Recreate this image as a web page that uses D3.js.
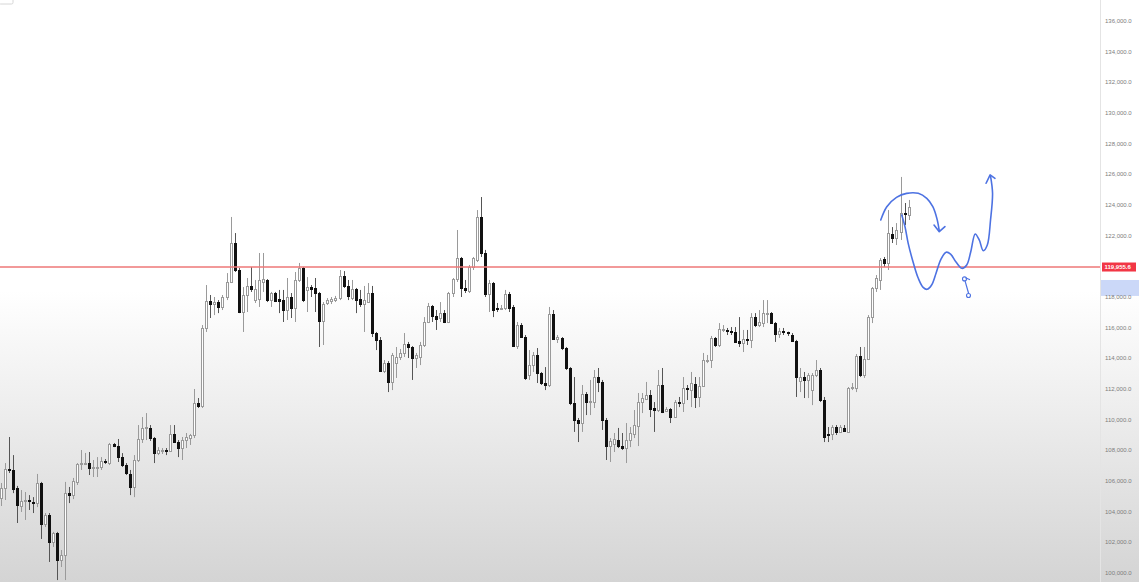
<!DOCTYPE html>
<html>
<head>
<meta charset="utf-8">
<script src="https://cdn.jsdelivr.net/npm/d3@7"></script>
<style>
html, body { margin: 0; padding: 0; overflow: hidden; background: #fff; }
svg { display: block; }
</style>
</head>
<body>
<script>
// 4h candles, prices in thousands of USD
var openK = [
104.89,105.55,106.78,106.72,105.55,104.37,104.69,104.76,104.63,104.56,
105.87,103.20,103.78,102.02,102.61,100.85,101.17,105.21,105.08,105.94,
107.11,107.14,107.17,106.85,106.91,106.91,107.30,107.17,108.41,108.28,
107.56,107.04,106.46,105.61,107.37,108.74,109.46,109.46,108.80,107.82,
108.02,108.02,107.95,109.07,108.54,108.15,108.67,108.80,109.00,111.08,
110.89,115.98,117.74,117.54,117.67,117.35,118.00,118.98,121.52,119.76,
117.02,118.13,118.72,117.80,117.87,118.98,119.11,117.80,118.26,117.87,
117.80,117.15,118.00,117.28,119.11,119.89,118.46,118.65,118.59,118.26,
116.43,117.61,117.74,117.80,117.93,119.37,118.72,117.93,118.52,117.87,
117.54,117.67,118.26,115.65,115.20,113.17,113.69,112.46,113.69,114.09,
114.35,114.93,114.74,114.02,114.09,114.87,116.37,117.41,116.76,116.63,
116.95,116.37,118.26,119.17,120.54,118.59,118.39,119.96,120.41,123.22,
120.87,118.20,118.91,117.28,117.28,117.28,118.20,117.35,114.80,116.17,
115.39,112.91,113.56,114.22,113.04,112.39,112.26,116.89,115.26,115.33,
114.67,113.37,111.08,109.98,109.78,111.67,111.15,111.15,112.78,112.46,
109.98,108.28,108.41,108.67,108.28,108.15,108.67,109.07,109.59,111.15,
111.35,111.61,110.76,110.63,112.26,110.56,110.70,110.17,111.15,111.08,
112.07,111.93,112.33,111.48,112.20,113.89,113.89,115.33,114.87,115.91,
115.85,115.78,115.72,115.13,115.00,115.26,115.20,116.69,116.17,116.30,
116.95,116.95,116.30,115.59,115.78,115.72,115.52,115.13,112.52,112.78,
112.59,111.93,112.91,113.24,111.28,109.07,109.07,109.52,109.20,109.46,
109.20,112.07,112.07,114.15,112.91,113.95,116.69,118.59,119.11,120.48,
120.21,122.11,121.85,122.24,123.48,123.35
];
var highK = [
105.87,107.17,108.87,107.69,105.68,105.41,105.28,105.08,104.95,106.46,
105.94,103.91,103.91,102.68,102.68,101.50,105.94,105.61,106.20,107.17,
108.02,107.83,107.89,107.37,107.56,107.56,107.43,108.48,108.48,108.74,
107.82,107.17,106.72,107.69,109.65,110.17,110.43,109.65,108.87,108.21,
108.15,108.15,109.65,109.65,108.67,108.87,109.13,109.07,112.00,111.41,
116.17,118.78,118.13,118.00,117.80,118.13,119.56,123.22,122.17,119.89,
118.65,119.24,119.96,119.11,120.87,120.87,119.17,118.33,118.33,118.46,
118.46,119.24,118.26,119.63,120.22,119.96,119.30,118.78,119.24,118.33,
117.67,117.93,118.00,118.07,119.76,119.69,119.11,119.11,118.59,118.46,
118.72,118.91,118.72,115.72,115.39,113.89,113.82,114.35,114.74,114.61,
115.65,115.07,114.80,114.35,115.07,116.69,117.61,117.48,117.15,117.67,
117.15,118.33,119.24,122.37,120.61,119.11,120.09,120.61,123.67,124.52,
121.07,119.11,118.98,117.61,117.48,118.46,118.33,117.48,116.37,116.30,
115.52,114.54,114.41,114.67,113.11,113.43,117.35,117.15,115.52,115.39,
114.74,113.43,112.78,110.11,112.26,111.80,112.59,113.24,113.37,112.59,
110.11,108.80,109.13,109.46,109.13,109.78,109.52,110.63,111.74,111.74,
112.46,111.93,111.15,113.24,113.37,110.82,110.76,111.28,111.48,112.78,
112.26,113.11,112.78,112.78,114.35,114.22,115.46,115.39,116.30,116.17,
115.98,116.04,116.04,116.69,115.85,115.85,116.95,116.95,117.15,117.80,
117.80,117.02,116.37,115.98,115.98,115.74,115.65,115.20,113.37,113.11,
113.04,113.04,113.89,113.37,111.48,109.52,109.65,109.65,109.65,109.65,
112.13,112.39,114.28,114.74,114.74,116.82,118.65,119.43,120.54,120.61,
123.67,122.56,122.82,125.83,124.13,124.33
];
var lowK = [
104.37,104.76,106.52,105.21,103.26,103.98,103.46,104.11,103.91,104.30,
102.22,103.00,100.72,101.70,99.54,100.39,99.54,104.56,104.82,105.74,
106.72,107.04,106.39,106.26,106.26,106.72,107.11,107.04,108.21,107.24,
106.91,106.39,105.08,104.95,107.24,108.48,108.67,108.61,107.17,107.69,
107.76,107.69,107.89,108.48,107.56,107.37,108.15,108.35,108.80,110.76,
110.76,115.72,116.63,116.82,116.95,117.15,117.80,118.91,119.63,116.95,
115.72,117.02,118.33,117.61,117.35,118.33,117.67,117.35,117.67,116.95,
116.37,116.50,116.63,116.37,118.98,117.67,117.02,118.00,117.02,114.74,
114.87,117.48,117.54,117.67,117.80,118.59,117.80,117.80,116.95,117.35,
115.72,117.61,115.39,114.54,113.11,113.04,111.80,111.93,112.72,113.89,
114.09,114.02,112.59,113.37,113.56,114.74,116.30,116.37,115.85,116.37,
116.30,116.30,118.00,118.98,118.00,118.26,118.26,119.76,120.28,120.61,
118.00,117.02,116.69,117.02,117.15,117.15,117.02,114.74,114.61,115.33,
112.59,112.59,113.11,112.39,112.26,111.93,112.13,115.20,115.00,114.54,
113.24,110.95,109.20,108.54,109.20,110.30,110.30,110.76,111.80,109.33,
107.37,107.24,107.89,108.15,108.02,107.17,108.21,108.80,108.28,110.43,
111.28,110.17,109.20,110.50,110.43,110.50,109.78,110.11,110.82,110.50,
111.28,110.82,110.76,110.82,112.13,113.69,113.37,114.74,114.74,115.72,
115.52,115.52,115.00,114.74,114.41,114.87,114.67,116.04,116.04,116.04,
116.30,116.30,115.07,115.33,115.52,115.46,115.07,111.48,111.80,111.41,
111.41,110.95,112.78,111.15,108.54,108.54,108.67,109.00,109.13,109.20,
109.13,111.93,111.80,112.78,112.72,113.89,116.30,118.33,118.46,119.96,
119.76,121.52,121.39,121.72,122.69,123.02
];
var closeK = [
105.55,106.78,106.72,105.48,104.43,104.69,104.76,104.69,104.56,105.87,
103.20,103.78,102.02,102.61,100.85,101.17,105.21,105.08,106.00,107.11,
107.17,107.17,106.85,106.91,106.94,107.30,107.24,108.41,108.28,107.56,
107.04,106.52,105.61,107.37,108.74,109.46,109.52,108.80,107.82,108.02,
108.05,107.95,109.07,108.54,108.15,108.67,108.87,109.00,111.08,110.89,
115.98,117.74,117.54,117.67,117.35,118.00,118.98,121.52,119.76,117.02,
118.13,118.72,118.52,118.52,119.11,119.17,117.80,118.26,117.74,117.74,
117.15,118.00,117.28,119.11,119.89,117.80,118.65,118.52,118.26,116.43,
117.54,117.80,117.87,117.93,119.37,118.72,118.07,118.52,117.80,117.54,
117.80,118.26,115.65,115.20,113.17,113.69,112.46,114.22,114.09,114.35,
114.93,114.74,114.02,114.22,114.87,116.37,117.41,116.76,116.56,116.95,
116.37,118.26,119.17,120.54,118.59,118.46,119.96,120.54,123.22,120.87,
118.20,118.91,117.15,117.22,117.30,118.20,117.28,114.80,116.17,115.39,
112.72,113.56,114.22,113.04,112.39,112.26,116.89,115.26,115.39,114.67,
113.37,111.08,109.98,109.78,111.67,111.15,111.21,112.78,112.46,109.98,
108.28,108.61,108.74,108.28,108.15,108.67,109.13,109.65,111.15,111.41,
111.61,110.70,110.63,112.26,110.50,110.70,110.17,111.15,111.08,112.07,
112.00,112.39,111.48,112.20,113.89,113.92,115.33,114.87,115.91,115.94,
115.78,115.72,115.07,115.00,115.26,115.20,116.69,116.17,116.37,116.95,
116.98,116.30,115.59,115.78,115.72,115.65,115.13,112.78,112.78,112.59,
112.91,112.91,113.24,111.28,108.87,109.04,109.52,109.20,109.52,109.26,
112.07,112.13,114.15,112.91,113.95,116.69,118.59,119.24,120.41,120.22,
122.17,121.85,122.37,123.48,123.45,123.87
];

// price scale labels and the horizontal level
var priceTicks = d3.range(100000, 136001, 2000);
var levelPrice = 119955.6;
var rangeBand = [118.07, 119.11]; // highlighted band on the price scale (thousands)

// hand drawn projections: [bar index, price in thousands]
var arcPath = [[218.1,123.02],[219.6,123.89],[222.0,124.50],[224.5,124.76],[227.4,124.76],
  [229.5,124.43],[231.0,123.89],[232.0,123.13],[232.6,122.32]];
var arcHead = [[231.3,122.69],[232.6,122.26],[234.0,122.59]];
var wavePath = [[223.3,123.35],[224.1,122.59],[224.9,121.50],[226.2,120.20],[227.4,119.22],
  [228.6,118.63],[229.6,118.50],[230.7,118.78],[231.8,119.55],[233.0,120.46],[234.3,120.92],
  [235.4,120.80],[236.7,120.30],[238.2,119.87],[239.4,120.09],[240.4,120.95],[241.5,122.11],
  [242.5,121.72],[243.5,121.02],[244.5,121.39],[245.3,123.02],[245.8,124.76],[245.3,125.89]];
var waveHead = [[244.2,125.42],[245.2,125.96],[246.4,125.74]];
var markStem = [[239.0,119.04],[239.84,118.26]];
var markTick = [[239.2,119.24],[240.1,119.14]];
var markDots = [[238.85,119.18],[239.84,118.10]];

var W = 1139, H = 582, axisX = 1100;

var svg = d3.select("body").append("svg")
  .attr("width", W)
  .attr("height", H);

// background fades to grey toward the bottom
var grad = svg.append("defs").append("linearGradient")
  .attr("id", "bg")
  .attr("gradientUnits", "userSpaceOnUse")
  .attr("x1", 0).attr("y1", 0).attr("x2", 0).attr("y2", H);
grad.append("stop").attr("offset", 0.5).attr("stop-color", "#ffffff");
grad.append("stop").attr("offset", 1).attr("stop-color", "#d4d4d4");
svg.append("rect").attr("width", W).attr("height", H).attr("fill", "url(#bg)");

// little widget clipped at the top left corner
svg.append("rect")
  .attr("x", -1).attr("y", -5).attr("width", 14).attr("height", 9)
  .attr("rx", 1.5)
  .attr("fill", "#fff").attr("stroke", "#d6d6d6");

var x = d3.scaleLinear().domain([0, openK.length - 1]).range([0.5, 908.6]);
var y = d3.scaleLinear().domain([100000, 136000]).range([573, 21]);

var candles = openK.map(function(o, i) {
  return {i: i, o: o * 1000, h: highK[i] * 1000, l: lowK[i] * 1000, c: closeK[i] * 1000};
});

var plot = svg.append("g");

// wicks
plot.selectAll("line.wick")
  .data(candles)
  .enter().append("line")
  .attr("class", "wick")
  .attr("x1", function(d) { return Math.round(x(d.i)) + 0.5; })
  .attr("x2", function(d) { return Math.round(x(d.i)) + 0.5; })
  .attr("y1", function(d) { return y(d.h); })
  .attr("y2", function(d) { return y(d.l); })
  .attr("stroke", function(d) { return d.c >= d.o ? "#9a9a9a" : "#555"; })
  .attr("stroke-width", 1);

// bodies
plot.selectAll("rect.body")
  .data(candles)
  .enter().append("rect")
  .attr("class", "body")
  .attr("x", function(d) { return Math.round(x(d.i)) - 0.5; })
  .attr("width", 2)
  .attr("y", function(d) { return Math.round(y(Math.max(d.o, d.c))) + 0.5; })
  .attr("height", function(d) {
    return Math.max(1, Math.round(y(Math.min(d.o, d.c))) - Math.round(y(Math.max(d.o, d.c))));
  })
  .attr("fill", function(d) { return d.c >= d.o ? "#ffffff" : "#111"; })
  .attr("stroke", function(d) { return d.c >= d.o ? "#9a9a9a" : "#111"; })
  .attr("stroke-width", 1);

// horizontal level
svg.append("line")
  .attr("x1", 0).attr("x2", axisX)
  .attr("y1", y(levelPrice))
  .attr("y2", y(levelPrice))
  .attr("stroke", "#ee7777")
  .attr("stroke-width", 1.6);

// blue drawings
var pen = d3.line()
  .x(function(d) { return x(d[0]); })
  .y(function(d) { return y(d[1] * 1000); })
  .curve(d3.curveCatmullRom.alpha(0.5));
var straight = d3.line()
  .x(function(d) { return x(d[0]); })
  .y(function(d) { return y(d[1] * 1000); });

var ink = svg.append("g")
  .attr("fill", "none")
  .attr("stroke", "#4d72e2")
  .attr("stroke-width", 1.6)
  .attr("stroke-linecap", "round")
  .attr("stroke-linejoin", "round");
ink.append("path").attr("d", pen(arcPath));
ink.append("path").attr("d", straight(arcHead));
ink.append("path").attr("d", pen(wavePath));
ink.append("path").attr("d", straight(waveHead));
ink.append("path").attr("d", straight(markStem)).attr("stroke-width", 1.2);
ink.append("path").attr("d", straight(markTick)).attr("stroke-width", 1.2);
ink.selectAll("circle")
  .data(markDots)
  .enter().append("circle")
  .attr("cx", function(d) { return x(d[0]); })
  .attr("cy", function(d) { return y(d[1] * 1000); })
  .attr("r", 2)
  .attr("stroke-width", 1.1);

// price scale
var axis = svg.append("g");
axis.append("line")
  .attr("x1", axisX + 0.5).attr("x2", axisX + 0.5)
  .attr("y1", 0).attr("y2", H)
  .attr("stroke", "#e4e4e4");

axis.append("rect")
  .attr("x", axisX + 1).attr("width", W - axisX - 1)
  .attr("y", y(rangeBand[1] * 1000))
  .attr("height", y(rangeBand[0] * 1000) - y(rangeBand[1] * 1000))
  .attr("fill", "#cbd8f8");

var fmt = d3.format(",.1f");
axis.selectAll("text.tick")
  .data(priceTicks.filter(function(p) { return Math.abs(y(p) - y(levelPrice)) > 8; }))
  .enter().append("text")
  .attr("class", "tick")
  .attr("x", 1105)
  .attr("y", function(d) { return y(d); })
  .attr("dy", "0.35em")
  .attr("font-family", "'Liberation Sans', Arial, sans-serif")
  .attr("font-size", 6)
  .attr("fill", "#7d7d7d")
  .text(fmt);

axis.append("rect")
  .attr("x", 1102).attr("width", 34)
  .attr("y", y(levelPrice) - 4.5).attr("height", 9)
  .attr("fill", "#f23645");
axis.append("text")
  .attr("x", 1104.5)
  .attr("y", y(levelPrice))
  .attr("dy", "0.35em")
  .attr("font-family", "'Liberation Sans', Arial, sans-serif")
  .attr("font-size", 6)
  .attr("font-weight", "bold")
  .attr("fill", "#fff")
  .text(fmt(levelPrice));
</script>
</body>
</html>
